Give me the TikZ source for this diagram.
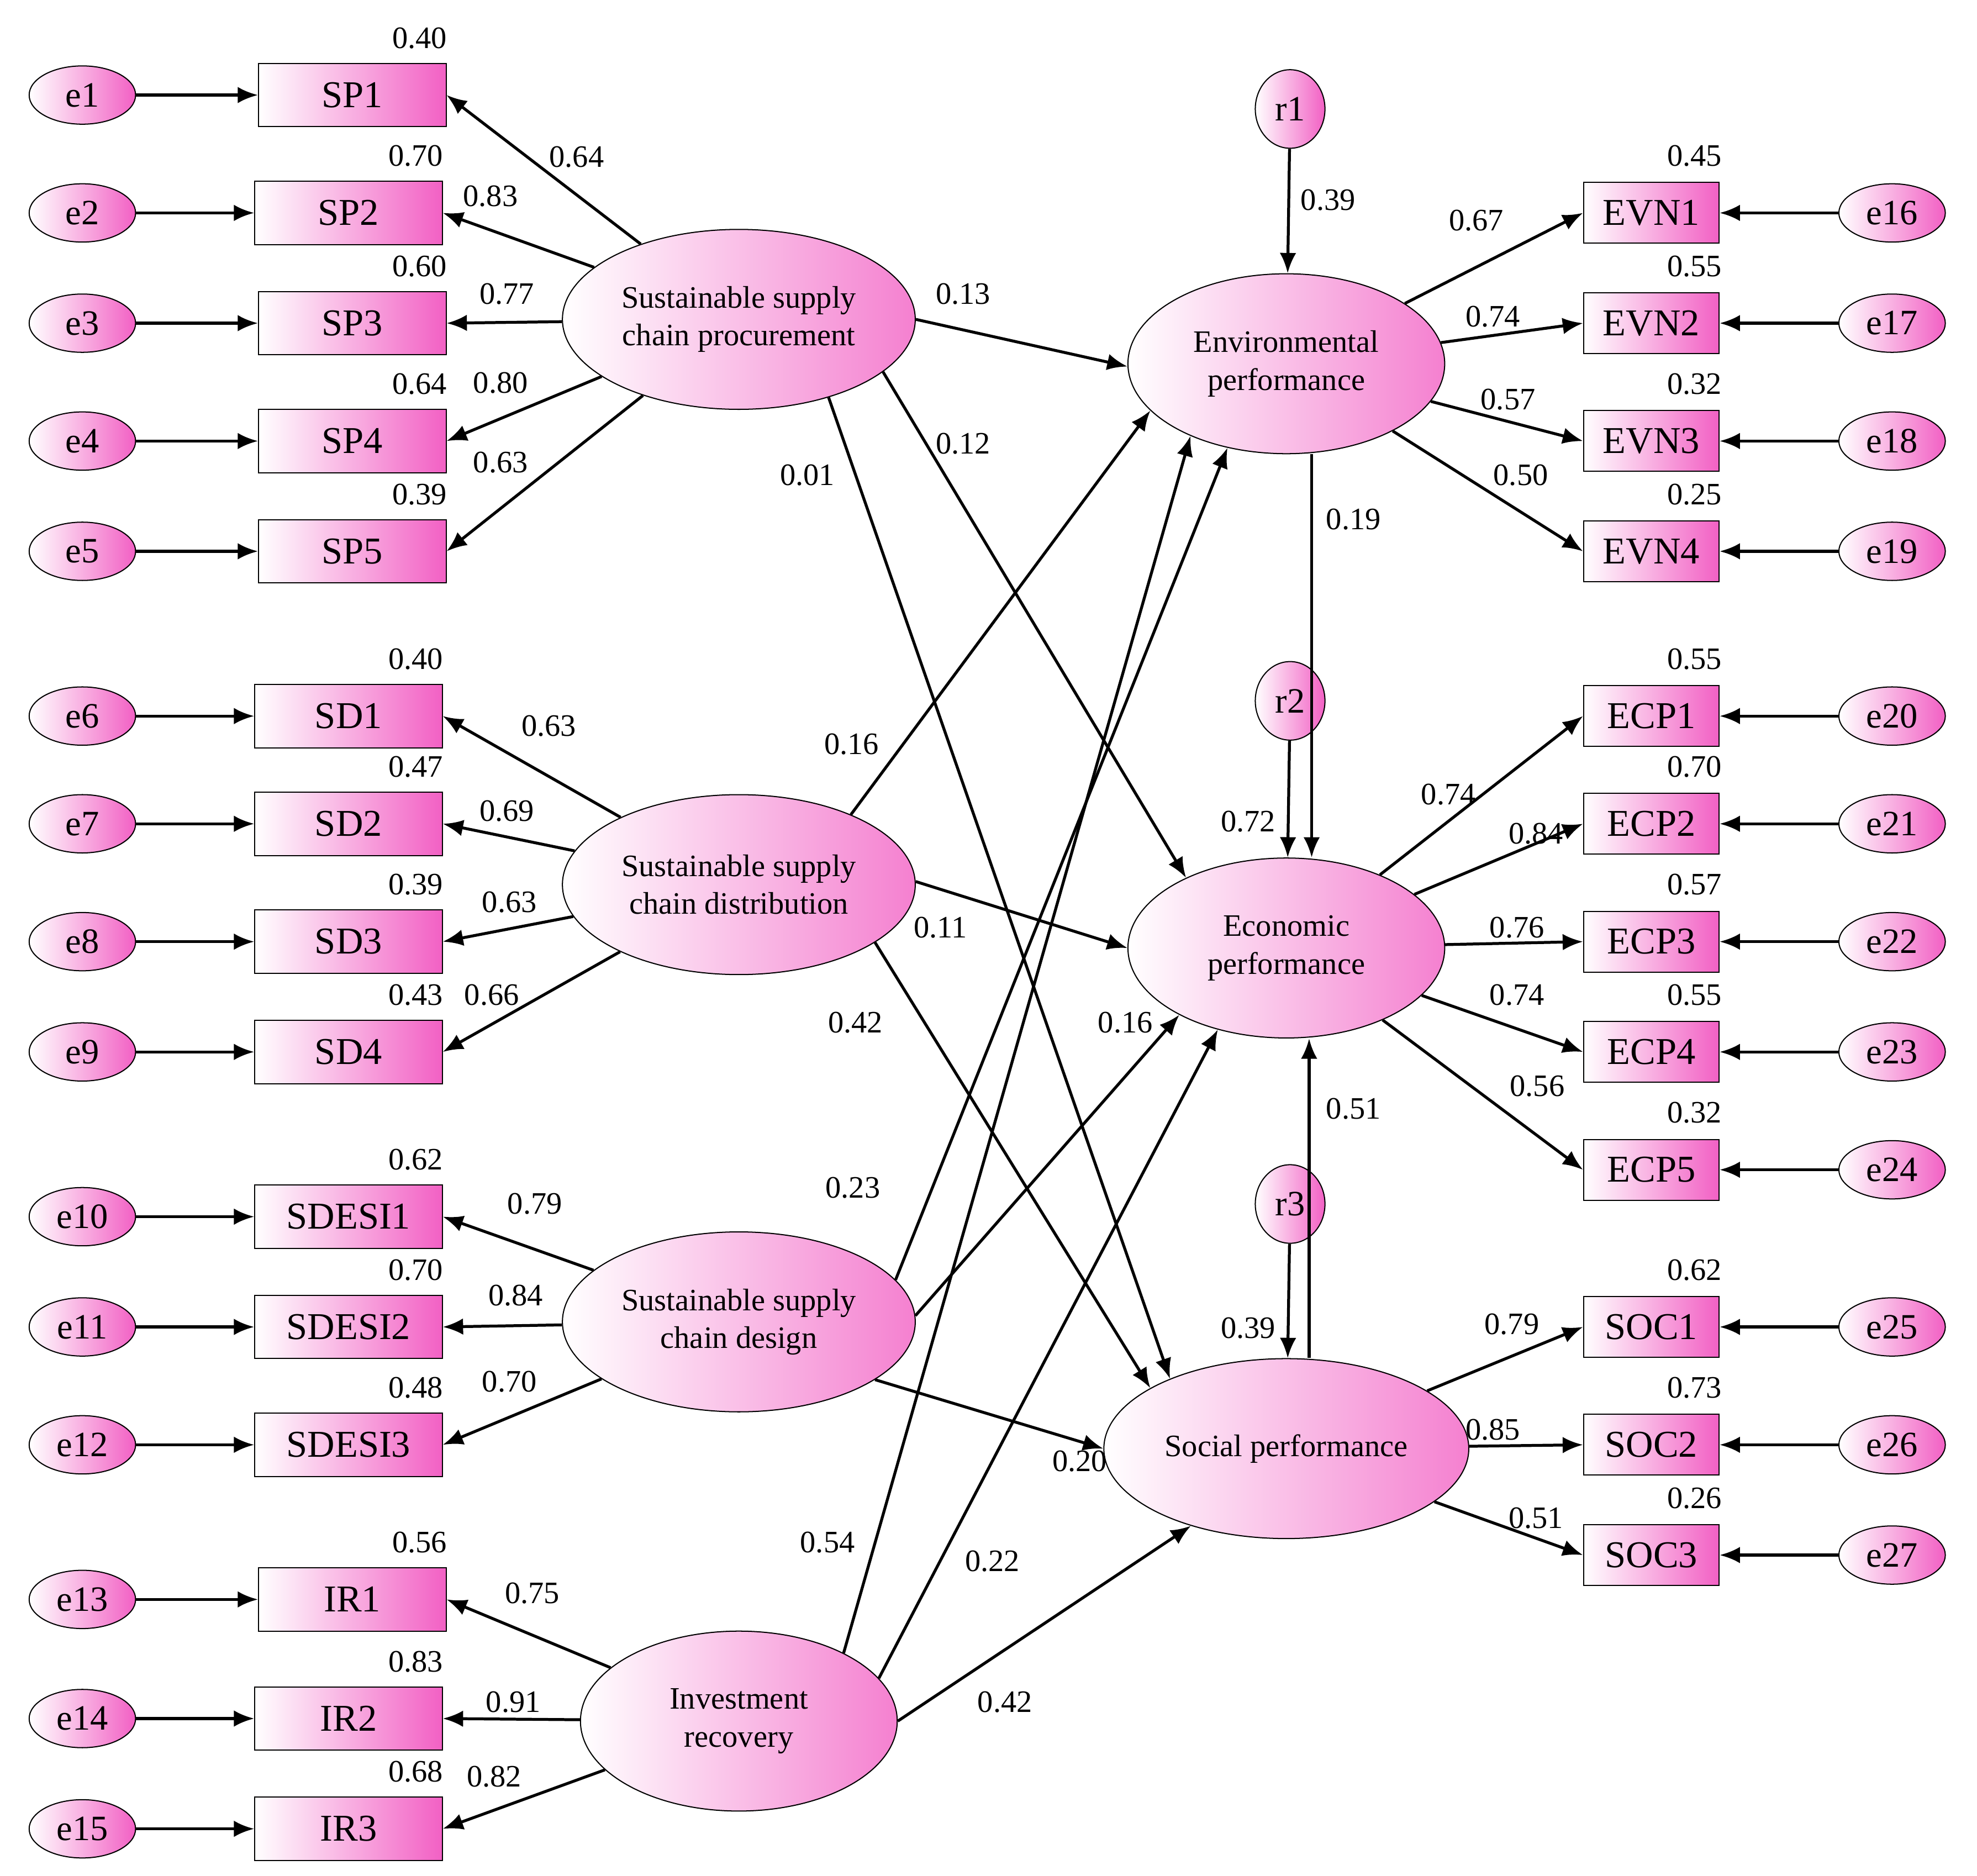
\documentclass[tikz,border=0pt]{standalone}
\usepackage{fontspec}
\setmainfont{Liberation Serif}
\usetikzlibrary{shapes.geometric,arrows.meta}
\definecolor{pinkR}{HTML}{F260C4}

\begin{document}
\begin{tikzpicture}[x=0.02cm, y=-0.02cm,
    arr/.style={-{Latex[length=0.32cm,width=0.26cm]}, line width=1.3pt},
    ind/.style={draw, line width=0.5pt, left color=white, right color=pinkR, minimum width=2.96cm, minimum height=1cm, font=\fontsize{17}{18}\selectfont},
    indr/.style={ind, minimum width=2.14cm, minimum height=0.96cm},
    err/.style={ellipse, draw, line width=0.5pt, left color=white, right color=pinkR, minimum width=1.68cm, minimum height=0.92cm, inner sep=0pt, font=\fontsize{16}{18}\selectfont},
    res/.style={err, minimum width=1.1cm, minimum height=1.24cm},
    lat/.style={ellipse, draw, line width=0.5pt, left color=white, right color=pinkR!80, minimum width=5cm, minimum height=2.84cm, align=center, font=\fontsize{14}{17}\selectfont},
    num/.style={font=\fontsize{14}{16}\selectfont}]
    \useasboundingbox (0,0) rectangle (1560,1480);

    % latent variables
    \node[lat] (SSCP) at (583,252) {Sustainable supply\\chain procurement};
    \node[lat] (SSCDi) at (583,698) {Sustainable supply\\chain distribution};
    \node[lat] (SSCDe) at (583,1043) {Sustainable supply\\chain design};
    \node[lat] (IR) at (583,1358) {Investment\\recovery};
    \node[lat] (EP) at (1015,287) {Environmental\\performance};
    \node[lat] (ECO) at (1015,748) {Economic\\performance};
    \node[lat] (SOP) at (1015,1143) {Social performance};

    % residuals
    \node[res] (r1) at (1018,86) {r1};
    \node[res] (r2) at (1018,553) {r2};
    \node[res] (r3) at (1018,950) {r3};

    % left indicators
    \foreach \i/\t/\x/\y/\v/\lat in {1/SP1/278/75/0.40/SSCP, 2/SP2/275/168/0.70/SSCP, 3/SP3/278/255/0.60/SSCP, 4/SP4/278/348/0.64/SSCP, 5/SP5/278/435/0.39/SSCP,
        6/SD1/275/565/0.40/SSCDi, 7/SD2/275/650/0.47/SSCDi, 8/SD3/275/743/0.39/SSCDi, 9/SD4/275/830/0.43/SSCDi,
        10/SDESI1/275/960/0.62/SSCDe, 11/SDESI2/275/1047/0.70/SSCDe, 12/SDESI3/275/1140/0.48/SSCDe,
        13/IR1/278/1262/0.56/IR, 14/IR2/275/1356/0.83/IR, 15/IR3/275/1443/0.68/IR} {
        \node[ind] (\t) at (\x,\y) {\t};
        \node[err] (e\i) at (65,\y) {e\i};
        \node[num] at (\x+53,\y-45) {\v};
        \draw[arr] (e\i) -- (\t);
        \draw[arr] (\lat) -- (\t.east);
    }

    % right indicators
    \foreach \i/\t/\y/\v/\lat in {16/EVN1/168/0.45/EP, 17/EVN2/255/0.55/EP, 18/EVN3/348/0.32/EP, 19/EVN4/435/0.25/EP,
        20/ECP1/565/0.55/ECO, 21/ECP2/650/0.70/ECO, 22/ECP3/743/0.57/ECO, 23/ECP4/830/0.55/ECO, 24/ECP5/923/0.32/ECO,
        25/SOC1/1047/0.62/SOP, 26/SOC2/1140/0.73/SOP, 27/SOC3/1227/0.26/SOP} {
        \node[indr] (\t) at (1303,\y) {\t};
        \node[err] (e\i) at (1493,\y) {e\i};
        \node[num] at (1337,\y-45) {\v};
        \draw[arr] (e\i) -- (\t);
        \draw[arr] (\lat) -- (\t.west);
    }

    % loadings
    \foreach \v/\x/\y in {0.64/455/124, 0.83/387/155, 0.77/400/232, 0.80/395/302, 0.63/395/365,
        0.63/433/573, 0.69/400/640, 0.63/402/712, 0.66/388/785,
        0.79/422/950, 0.84/407/1022, 0.70/402/1090,
        0.75/420/1257, 0.91/405/1343, 0.82/390/1402,
        0.67/1165/174, 0.74/1178/250, 0.57/1190/315, 0.50/1200/375,
        0.74/1143/627, 0.84/1212/658, 0.76/1197/732, 0.74/1197/785, 0.56/1213/857,
        0.79/1193/1045, 0.85/1178/1128, 0.51/1212/1198}
        \node[num] at (\x,\y) {\v};

    % structural paths
    \draw[arr] (SSCP.0) -- (EP.181);
    \draw[arr] (SSCP.-20) -- (ECO.145);
    \draw[arr] (SSCP.-41) -- (SOP.149);
    \draw[arr] (SSCDi.32) -- (EP.199);
    \draw[arr] (SSCDi.1) -- (ECO.180);
    \draw[arr] (SSCDi.-23) -- (SOP.156);
    \draw[arr] (SSCDe.15) -- (EP.235);
    \draw[arr] (SSCDe.2) -- (ECO.212);
    \draw[arr] (SSCDe.-23) -- (SOP.180);
    \draw[arr] (IR.33) -- (EP.217);
    \draw[arr] (IR.17) -- (ECO.230);
    \draw[arr] (IR.0) -- (SOP.219);
    \draw[arr] ([xshift=0.4cm]EP.south) -- ([xshift=0.4cm]ECO.north);
    \draw[arr] ([xshift=0.36cm]SOP.north) -- ([xshift=0.36cm]ECO.south);
    \draw[arr] (r1) -- (EP);
    \draw[arr] (r2) -- (ECO);
    \draw[arr] (r3) -- (SOP);

    \foreach \v/\x/\y in {0.13/760/232, 0.12/760/350, 0.01/637/375, 0.16/672/587, 0.11/742/732,
        0.42/675/807, 0.23/673/937, 0.16/888/807, 0.20/852/1153, 0.54/653/1217, 0.22/783/1232,
        0.42/793/1343, 0.19/1068/410, 0.51/1068/875, 0.39/1048/158, 0.72/985/648, 0.39/985/1048}
        \node[num] at (\x,\y) {\v};
\end{tikzpicture}
\end{document}
